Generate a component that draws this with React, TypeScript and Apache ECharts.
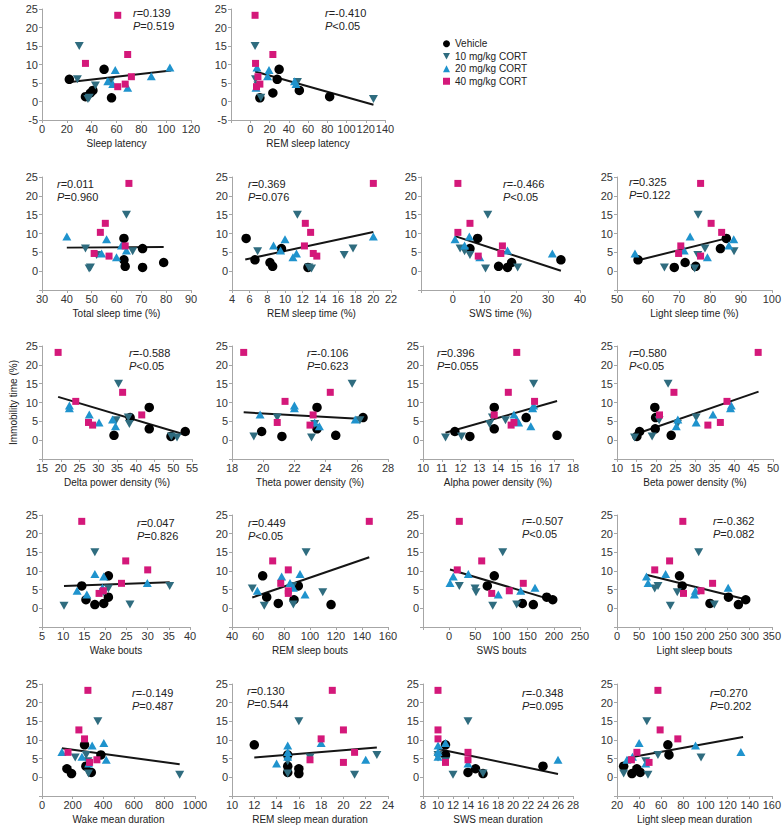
import React, { useEffect, useRef } from "react";
import * as echarts from "echarts";

// ---------- data ----------
const groupNames = ["Vehicle", "10 mg/kg CORT", "20 mg/kg CORT", "40 mg/kg CORT"];

// Immobility time (%) per animal, per group
const immobVehicle = [8.7, 6, 3, 2.3, 1.3, 1];
const immob10 = [15, 6, 5.3, 4.3, 1, 0.7];
const immob20 = [9.2, 8.5, 6.8, 5.5, 4.7, 3.7];
const immob40 = [23.3, 12.7, 10.3, 6.7, 4.7, 4];

// x values for each panel: [vehicle, 10 mg/kg, 20 mg/kg, 40 mg/kg]
const sleepLatency = [[50, 22, 41, 39, 35, 56], [30, 28.5, 55, 43, 38, 37], [103, 59, 88, 53, 57, 69], [61, 69, 35, 72, 67, 61]];
const remSleepLatency = [[30, 28, 51, 23.5, 82.5, 10], [5, 5.5, 49, 8, 11, 128], [7, 19.5, 18, 46, 47.5, 6], [5, 23.5, 5.5, 8, 10, 6.5]];
const totalSleepTime = [[63, 70.5, 63, 79, 63.5, 70.5], [64, 47.5, 66.5, 52, 49.5, 49], [40, 56, 62, 64, 54, 60], [65, 55.5, 53.5, 63.5, 51, 57]];
const remSleepTime = [[5.6, 9.6, 6.6, 8.3, 8.6, 12.6], [11.4, 17.7, 6.9, 16.7, 12.7, 13], [20, 10, 8.7, 9.5, 11.3, 10.9], [20, 12.3, 12.9, 12.2, 13.2, 13.6]];
const swsTime = [[7.8, 5.4, 34, 18.5, 14.4, 17.2], [11, 2.3, 3.7, 5.4, 20.4, 10.3], [5.2, 0.7, 3.7, 17.2, 31.3, 8.5], [1.6, 5.4, 1.6, 15.6, 15.1, 8]];
const lightSleepTime = [[85.3, 83.4, 56.8, 72, 75.4, 68.5], [76.2, 78.4, 87.8, 76.1, 65.3, 75.1], [73.6, 87.7, 86.1, 71.7, 55.8, 79.2], [77, 80.4, 83.8, 70.6, 69.9, 77]];
const deltaPower = [[43.6, 38.5, 43.6, 53.2, 34.2, 49.4], [35.4, 38, 34.8, 38.3, 49.5, 51], [22.3, 22.3, 27.6, 33.8, 30.2, 34.6], [19.3, 36.5, 24, 41.6, 27.4, 28.5]];
const thetaPower = [[23.45, 26.4, 23.45, 19.9, 24.65, 21.2], [25.7, 20.9, 26.2, 23.3, 19.4, 23.1], [22, 22, 19.8, 25.9, 23.3, 23.6], [18.75, 24.3, 21.4, 23.2, 20.9, 23]];
const alphaPower = [[13.8, 15.5, 13.8, 11.7, 17.15, 12.5], [15.9, 13.7, 14.4, 13.55, 12.05, 11.2], [15.9, 15.85, 14.85, 15.0, 15.1, 15.75], [15.0, 14.55, 15.95, 13.8, 14.85, 14.7]];
const betaPower = [[19.7, 19.9, 19.8, 15.8, 23.9, 15.1], [23.1, 30.3, 20.8, 25.5, 19, 14.5], [39.3, 39.1, 34.6, 25.6, 30.3, 25.2], [46.2, 24.6, 38.2, 20.9, 36.5, 33.3]];
const wakeBouts = [[20.7, 14.4, 20.7, 15.4, 19.6, 17.5], [17.5, 35.2, 20.7, 19.5, 25.8, 10.2], [17.5, 19.6, 29.9, 19.3, 13.3, 15.6], [14.4, 24.8, 30, 23.8, 19.5, 18.5]];
const remSleepBouts = [[63.6, 91, 66.7, 87.7, 75.6, 116.2], [97, 86.7, 55.6, 109.8, 87.2, 64.8], [92.3, 78.2, 84.6, 87.2, 59.5, 96.2], [145.6, 71.3, 83.3, 77.5, 83.3, 83.3]];
const swsBouts = [[86.2, 72.9, 186.4, 197.9, 139.8, 160.8], [102.3, 19.4, 49.4, 51.3, 129, 83.2], [36.6, 7.9, 1.6, 164, 136.7, 93.9], [19.4, 62.2, 15.5, 141.6, 114.9, 81.3]];
const lightSleepBouts = [[141.3, 147.4, 252, 291, 210.2, 274.4], [184.7, 92.7, 85.3, 136.2, 219.9, 120.5], [109.9, 66.6, 70.2, 251.3, 177.2, 175], [148.8, 118.9, 85.3, 216.1, 190, 150.3]];
const wakeMeanDuration = [[278, 385, 287, 163, 322, 193], [365, 289, 217, 300, 304, 900], [404, 328, 130, 261, 420, 305], [300, 241, 278, 170, 359, 311]];
const remMeanDuration = [[12, 15, 15, 16, 15, 16], [16, 23, 17, 15, 15, 21], [18, 15, 15, 15, 22, 14], [19, 20, 18, 21, 17, 20]];
const swsMeanDuration = [[11, 11, 24, 15, 14, 16], [14, 10, 10, 11, 16, 12], [11, 10, 10, 10, 26, 14], [10, 10, 10, 14, 14, 11]];
const lightMeanDuration = [[66, 67, 26, 38, 41, 33.5], [47, 57, 96, 46, 26, 48], [40, 91, 132, 34, 29, 46], [57, 59, 75, 38, 33, 49]];

const panelX = [
  sleepLatency, remSleepLatency,
  totalSleepTime, remSleepTime, swsTime, lightSleepTime,
  deltaPower, thetaPower, alphaPower, betaPower,
  wakeBouts, remSleepBouts, swsBouts, lightSleepBouts,
  wakeMeanDuration, remMeanDuration, swsMeanDuration, lightMeanDuration,
];

const axisTitles = [
  "Sleep latency", "REM sleep latency",
  "Total sleep time (%)", "REM sleep time (%)", "SWS time (%)", "Light sleep time (%)",
  "Delta power density (%)", "Theta power density (%)", "Alpha power density (%)", "Beta power density (%)",
  "Wake bouts", "REM sleep bouts", "SWS bouts", "Light sleep bouts",
  "Wake mean duration", "REM sleep mean duration", "SWS mean duration", "Light sleep mean duration",
];

const xMin = [0, -20, 30, 4, -10, 50, 15, 18, 10, 10, 5, 40, -50, 0, 0, 10, 8, 20];
const xMax = [120, 140, 90, 22, 40, 100, 55, 28, 18, 50, 40, 160, 250, 350, 1000, 24, 28, 160];
const xStep = [20, 20, 10, 2, 10, 10, 5, 2, 1, 5, 5, 20, 50, 50, 200, 2, 2, 20];

const rValues = ["0.139", "-0.410", "0.011", "0.369", "-0.466", "0.325", "-0.588", "-0.106", "0.396", "0.580", "0.047", "0.449", "-0.507", "-0.362", "-0.149", "0.130", "-0.348", "0.270"];
const pValues = ["=0.519", "<0.05", "=0.960", "=0.076", "<0.05", "=0.122", "<0.05", "=0.623", "=0.055", "<0.05", "=0.826", "<0.05", "<0.05", "=0.082", "=0.487", "=0.544", "=0.095", "=0.202"];

// regression line end points [x, immobility]
const fitLines = [
  [[21, 5.2], [104, 8.4]], [[5, 8.1], [128, -0.9]],
  [[40, 6.25], [79, 6.4]], [[5.5, 3.1], [20, 10.4]], [[0.7, 9.3], [34, 0.1]], [[56.8, 2.9], [85.3, 8.7]],
  [[19.3, 11.5], [53, 1.5]], [[18.75, 7.4], [26.4, 5.6]], [[11.2, 1.95], [17.15, 10.4]], [[14.5, 1.5], [46.3, 12.9]],
  [[10.2, 6], [35.2, 7.0]], [[55.6, 2.9], [145.6, 13.7]], [[1.6, 10.4], [197.9, 2.2]], [[66, 9.0], [294.6, 2.3]],
  [[130, 7.8], [900, 3.5]], [[12, 5.3], [23, 8.0]], [[10, 7.6], [26, 0.9]], [[29, 5.2], [134, 10.8]],
];

// ---------- layout ----------
const panelRow = [0, 0, 1, 1, 1, 1, 2, 2, 2, 2, 3, 3, 3, 3, 4, 4, 4, 4];
const rowTop = [9, 177, 346, 515, 684];
const rowBottom = [120, 290, 459, 627, 796];
const gridLeft = [42, 231, 42, 232, 421, 617, 42, 232, 423, 617, 42, 232, 423, 617, 42, 232, 423, 617];
const gridRight = [191, 385, 191, 391, 580, 773, 192, 388, 573, 773, 190, 388, 580, 773, 195, 388, 573, 773];
const statPos = [
  [133, 6], [325, 6],
  [57, 177], [248, 177], [503, 177], [629, 175],
  [129, 346], [307, 346], [437, 346], [629, 346],
  [137, 516], [248, 516], [522, 514], [713, 514],
  [132, 686], [247, 684], [522, 686], [710, 686],
];

const FONT = "'Liberation Sans', Arial, sans-serif";
const AXIS_COLOR = "#a6a6a6";
const groupColors = ["#000000", "#2f6c7f", "#1f93cd", "#d4187a"];
const groupSymbols = ["circle", "path://M0,0L10,0L5,9Z", "triangle", "rect"];
const groupSizes: any[] = [9.5, [9, 8], [9, 8], 7];

function buildOption() {
  const immob = [immobVehicle, immob10, immob20, immob40];
  const grid: any[] = [];
  const xAxis: any[] = [];
  const yAxis: any[] = [];
  const series: any[] = [];
  const graphic: any[] = [];

  panelX.forEach((xs, i) => {
    const row = panelRow[i];
    grid.push({
      left: gridLeft[i],
      top: rowTop[row],
      width: gridRight[i] - gridLeft[i],
      height: rowBottom[row] - rowTop[row],
    });
    xAxis.push({
      type: "value",
      gridIndex: i,
      min: xMin[i],
      max: xMax[i],
      interval: xStep[i],
      name: axisTitles[i],
      nameLocation: "middle",
      nameGap: 18,
      nameTextStyle: { fontSize: 10, color: "#222", fontFamily: FONT },
      axisLine: { show: true, onZero: false, lineStyle: { color: AXIS_COLOR, width: 1 } },
      axisTick: { show: true, length: 3, lineStyle: { color: AXIS_COLOR } },
      axisLabel: {
        fontSize: 11,
        color: "#333",
        fontFamily: FONT,
        margin: 3,
        showMinLabel: true,
        showMaxLabel: true,
        formatter: (v: number) => (v < 0 ? "" : String(v)),
      },
      splitLine: { show: false },
    });
    yAxis.push({
      type: "value",
      gridIndex: i,
      min: -5,
      max: 25,
      interval: 5,
      name: i === 6 ? "Immobility time (%)" : "",
      nameLocation: "middle",
      nameGap: 24,
      nameTextStyle: { fontSize: 10, color: "#222", fontFamily: FONT },
      axisLine: { show: true, onZero: false, lineStyle: { color: AXIS_COLOR, width: 1 } },
      axisTick: { show: true, length: 3, lineStyle: { color: AXIS_COLOR } },
      axisLabel: {
        fontSize: 11,
        color: "#333",
        fontFamily: FONT,
        margin: 4,
        formatter: (v: number) => (row === 0 || v >= 0 ? String(v) : ""),
      },
      splitLine: { show: false },
    });
    series.push({
      type: "line",
      xAxisIndex: i,
      yAxisIndex: i,
      data: fitLines[i],
      symbol: "none",
      silent: true,
      lineStyle: { color: "#151515", width: 2 },
      z: 1,
    });
    xs.forEach((gx, g) => {
      series.push({
        type: "scatter",
        name: groupNames[g],
        xAxisIndex: i,
        yAxisIndex: i,
        data: gx.map((x, k) => [x, immob[g][k]]),
        symbol: groupSymbols[g],
        symbolSize: groupSizes[g],
        itemStyle: { color: groupColors[g], opacity: 1 },
        z: 2,
      });
    });
    graphic.push({
      type: "text",
      x: statPos[i][0],
      y: statPos[i][1],
      silent: true,
      style: {
        text: `{i|r}=${rValues[i]}\n{i|P}${pValues[i]}`,
        fontSize: 11,
        fontFamily: FONT,
        fill: "#222",
        lineHeight: 13,
        rich: {
          i: { fontStyle: "italic", fontSize: 11, fontFamily: FONT, fill: "#222", lineHeight: 13 },
        },
      },
    });
  });

  return {
    animation: false,
    backgroundColor: "#ffffff",
    textStyle: { fontFamily: FONT },
    legend: {
      data: groupNames,
      orient: "vertical",
      left: 443,
      top: 38,
      padding: 0,
      itemWidth: 7,
      itemHeight: 7,
      itemGap: 1,
      textStyle: { fontSize: 10, color: "#222", fontFamily: FONT, lineHeight: 11.5 },
    },
    grid,
    xAxis,
    yAxis,
    series,
    graphic,
  };
}

export default function App() {
  const ref = useRef<HTMLDivElement>(null);
  useEffect(() => {
    const chart = echarts.init(ref.current!, null, { renderer: "svg" });
    chart.setOption(buildOption() as any);
    return () => chart.dispose();
  }, []);
  return (
    <div
      ref={ref}
      style={{ position: "absolute", left: 0, top: 0, width: 784, height: 826, background: "#fff" }}
    />
  );
}
